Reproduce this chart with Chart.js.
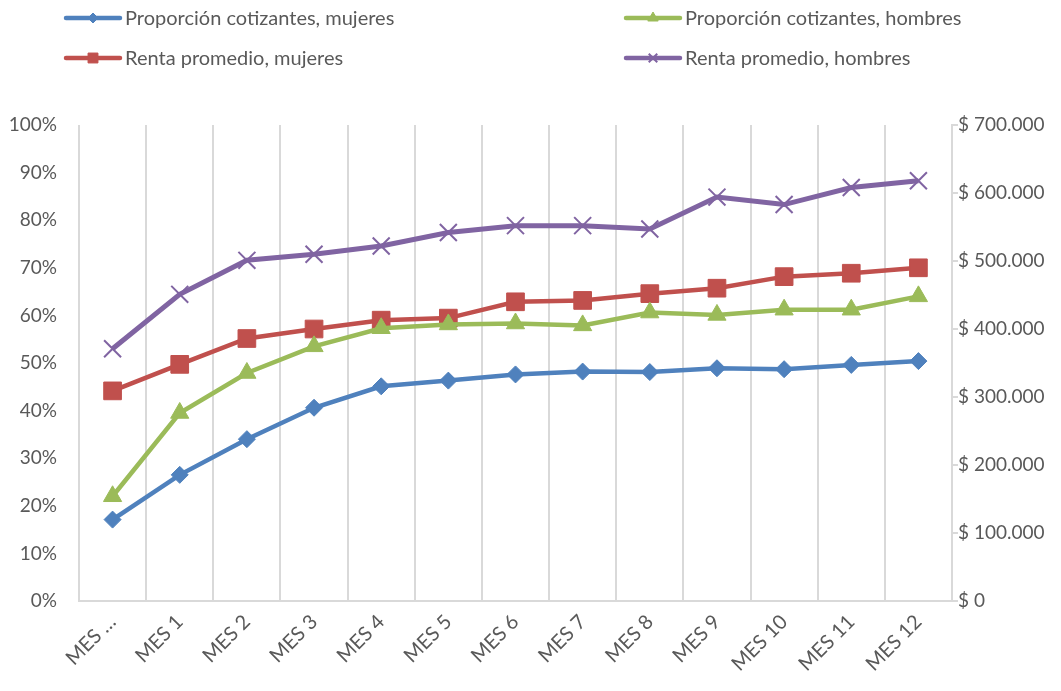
<!DOCTYPE html>
<html>
<head>
<meta charset="utf-8">
<script src="https://cdn.jsdelivr.net/npm/chart.js@4/dist/chart.umd.min.js"></script>
<style>
  html, body { margin: 0; padding: 0; background: #fff; }
  #wrap { width: 1061px; height: 691px; position: relative; }
</style>
</head>
<body>
<div id="wrap"><canvas id="graficoMeses"></canvas></div>
<script>
// Datos
const meses = ["MES …", "MES 1", "MES 2", "MES 3", "MES 4", "MES 5", "MES 6", "MES 7", "MES 8", "MES 9", "MES 10", "MES 11", "MES 12"];
const propMujeres = [17.1, 26.5, 34.0, 40.6, 45.1, 46.3, 47.6, 48.2, 48.1, 48.9, 48.7, 49.6, 50.4];
const propHombres = [22.0, 39.5, 47.9, 53.5, 57.3, 58.1, 58.3, 57.9, 60.6, 60.1, 61.2, 61.2, 64.0];
const rentaMujeres = [309000, 348000, 386000, 400000, 413000, 416000, 440000, 442000, 452000, 460000, 477000, 482000, 490000];
const rentaHombres = [371000, 451000, 501000, 510000, 522000, 542000, 552000, 552000, 547000, 594000, 583000, 608000, 618000];
const ticksPorcentaje = [0, 10, 20, 30, 40, 50, 60, 70, 80, 90, 100];
const ticksRenta = [0, 100000, 200000, 300000, 400000, 500000, 600000, 700000];

const FUENTE = "Lato, 'Open Sans', sans-serif";
const GRIS_TEXTO = "#595959";
const GRIS_LINEA = "#d9d9d9";

// formato $ 700.000
function formatoPeso(v) {
  return "$ " + String(v).replace(/\B(?=(\d{3})+(?!\d))/g, ".");
}

// leyenda en dos columnas, como la del Excel
const leyendaPlugin = {
  id: "leyendaDosColumnas",
  afterDraw(chart) {
    const ctx = chart.ctx;
    const posiciones = [[66, 18], [626, 18], [66, 58], [626, 58]];
    chart.data.datasets.forEach((ds, i) => {
      const [x, y] = posiciones[i];
      ctx.save();
      ctx.strokeStyle = ds.borderColor;
      ctx.lineWidth = 4.5;
      ctx.lineCap = "round";
      ctx.beginPath();
      ctx.moveTo(x, y);
      ctx.lineTo(x + 54, y);
      ctx.stroke();
      ctx.fillStyle = ds.backgroundColor;
      ctx.lineWidth = ds.pointBorderWidth;
      ctx.lineCap = "butt";
      Chart.helpers.drawPoint(ctx, {
        pointStyle: ds.pointStyle,
        rotation: 0,
        radius: ds.legendRadius,
        borderWidth: ds.pointBorderWidth,
      }, x + 27, y);
      ctx.fillStyle = GRIS_TEXTO;
      ctx.font = "20px " + FUENTE;
      ctx.textBaseline = "middle";
      ctx.textAlign = "left";
      ctx.fillText(ds.label, x + 59, y + 1);
      ctx.restore();
    });
  },
};

const ctx = document.getElementById("graficoMeses").getContext("2d");
const graficoMeses = new Chart(ctx, {
  type: "line",
  data: {
    labels: meses,
    datasets: [
      {
        label: "Proporción cotizantes, mujeres",
        data: propMujeres,
        yAxisID: "y",
        borderColor: "#4F81BD",
        backgroundColor: "#4F81BD",
        borderWidth: 4.5,
        pointStyle: "rectRot",
        pointRadius: 8.5,
        pointBorderWidth: 1,
        legendRadius: 5,
      },
      {
        label: "Proporción cotizantes, hombres",
        data: propHombres,
        yAxisID: "y",
        borderColor: "#9BBB59",
        backgroundColor: "#9BBB59",
        borderWidth: 4.5,
        pointStyle: "triangle",
        pointRadius: 10.5,
        pointBorderWidth: 1,
        legendRadius: 6,
      },
      {
        label: "Renta promedio, mujeres",
        data: rentaMujeres,
        yAxisID: "y1",
        borderColor: "#C0504D",
        backgroundColor: "#C0504D",
        borderWidth: 4.5,
        pointStyle: "rect",
        pointRadius: 12.5,
        pointBorderWidth: 1,
        legendRadius: 7,
      },
      {
        label: "Renta promedio, hombres",
        data: rentaHombres,
        yAxisID: "y1",
        borderColor: "#8064A2",
        backgroundColor: "#8064A2",
        borderWidth: 5,
        pointStyle: "crossRot",
        pointRadius: 12,
        pointBorderWidth: 2,
        legendRadius: 6,
      },
    ],
  },
  options: {
    responsive: true,
    maintainAspectRatio: false,
    animation: false,
    devicePixelRatio: 1,
    layout: { padding: { top: 125, left: 0, right: 0, bottom: 0 } },
    elements: { line: { tension: 0 } },
    plugins: {
      legend: { display: false },
      tooltip: { enabled: false },
    },
    scales: {
      x: {
        offset: true,
        grid: { offset: true, color: GRIS_LINEA, lineWidth: 2, drawTicks: false },
        border: { display: true, color: GRIS_LINEA, width: 2 },
        ticks: {
          color: GRIS_TEXTO,
          font: { family: FUENTE, size: 20 },
          minRotation: 45,
          maxRotation: 45,
          autoSkip: false,
          padding: 9,
        },
        afterFit(scale) { scale.height = 90; },
      },
      y: {
        position: "left",
        min: 0,
        max: 100,
        grid: { display: false },
        border: { display: false },
        afterBuildTicks(scale) { scale.ticks = ticksPorcentaje.map((v) => ({ value: v })); },
        ticks: {
          color: GRIS_TEXTO,
          font: { family: FUENTE, size: 19 },
          padding: 14,
          callback: (v) => v + "%",
        },
        afterFit(scale) { scale.width = 79; },
      },
      y1: {
        position: "right",
        min: 0,
        max: 700000,
        grid: { drawOnChartArea: false, color: GRIS_LINEA, lineWidth: 2, tickLength: 6 },
        border: { display: true, color: GRIS_LINEA, width: 2 },
        afterBuildTicks(scale) { scale.ticks = ticksRenta.map((v) => ({ value: v })); },
        ticks: {
          color: GRIS_TEXTO,
          font: { family: FUENTE, size: 19 },
          padding: 0,
          callback: (v) => formatoPeso(v),
        },
        afterFit(scale) { scale.width = 109; },
      },
    },
  },
  plugins: [leyendaPlugin],
});
</script>
</body>
</html>
